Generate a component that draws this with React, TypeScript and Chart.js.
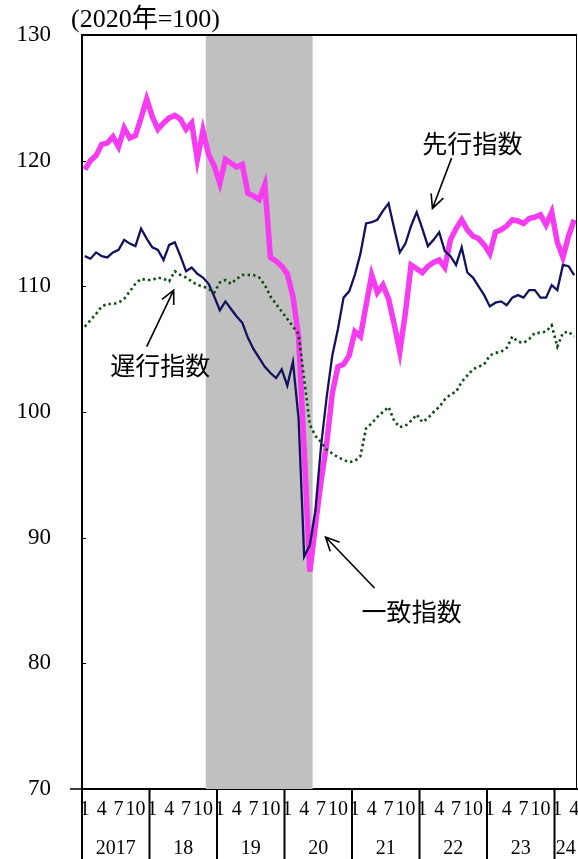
import { useEffect, useRef } from 'react';
import { Chart, registerables } from 'chart.js';

Chart.register(...registerables);

// ---- data ----
const years = [2017, 2018, 2019, 2020, 2021, 2022, 2023, 2024];
const yearLabels = ['2017', '18', '19', '20', '21', '22', '23', '24'];
const monthsInLastYear = 4;
const monthTickLabels = [1, 4, 7, 10];
const yTicks = [70, 80, 90, 100, 110, 120, 130];

const categories: string[] = [];
years.forEach((y, yi) => {
  const n = yi === years.length - 1 ? monthsInLastYear : 12;
  for (let m = 1; m <= n; m++) categories.push(`${y}-${m}`);
});

const recessionStart = '2018-11';
const recessionEnd = '2020-5';

// 先行指数 (leading)
const leading = [
  119.3, 120.0, 120.4, 121.3, 121.4, 121.9, 121.1, 122.6, 121.8, 122.0, 123.4, 124.9,
  123.5, 122.5, 123.0, 123.4, 123.6, 123.3, 122.5, 123.0, 120.1, 122.4, 120.5, 119.6,
  118.2, 120.1, 119.8, 119.5, 119.7, 117.4, 117.2, 116.9, 118.1, 112.3, 112.0, 111.6,
  111.0, 109.2, 106.0, 97.0, 87.3, 91.0, 94.5, 97.5, 101.5, 103.6, 103.8, 104.5,
  106.4, 106.0, 108.5, 110.9, 109.5, 110.1, 109.0, 107.0, 104.8, 107.9, 111.7, 111.4,
  111.1, 111.6, 111.9, 112.1, 111.5, 113.7, 114.6, 115.3, 114.5, 114.0, 113.8, 113.3,
  112.6, 114.3, 114.5, 114.8, 115.3, 115.2, 115.0, 115.4, 115.5, 115.7, 114.9, 115.9,
  113.5, 112.3, 114.0, 115.3,
];

// 一致指数 (coincident)
const coincident = [
  112.4, 112.2, 112.7, 112.4, 112.3, 112.7, 112.9, 113.7, 113.4, 113.2, 114.6, 113.8,
  113.1, 112.9, 112.1, 113.3, 113.5, 112.4, 111.2, 111.5, 111.0, 110.7, 110.2, 109.2,
  108.1, 108.8, 108.2, 107.6, 107.1, 105.9, 105.0, 104.3, 103.6, 103.1, 102.7, 103.4,
  102.1, 104.0, 99.5, 88.5, 89.4, 92.2, 97.3, 101.2, 104.5, 106.6, 109.1, 109.6,
  110.9, 112.6, 115.0, 115.1, 115.3, 116.0, 116.6, 114.6, 112.7, 113.4, 114.8, 115.9,
  114.6, 113.2, 113.7, 114.3, 112.8, 112.4, 111.7, 113.1, 111.1, 110.7, 110.0, 109.3,
  108.4, 108.7, 108.8, 108.5, 109.1, 109.3, 109.1, 109.7, 109.7, 109.1, 109.1, 110.1,
  109.7, 111.7, 111.6, 110.9,
];

// 遅行指数 (lagging)
const lagging = [
  106.8, 107.3, 107.8, 108.4, 108.6, 108.6, 108.7, 109.0, 109.6, 110.2, 110.6, 110.5,
  110.5, 110.7, 110.6, 110.4, 111.2, 110.9, 110.7, 110.4, 110.1, 110.0, 109.8, 109.5,
  110.3, 110.5, 110.2, 110.6, 110.9, 110.9, 110.9, 110.7, 110.1, 109.2, 108.6, 108.0,
  107.4, 106.8, 106.2, 102.6, 99.0, 98.1, 97.6, 97.0, 96.7, 96.4, 96.2, 96.0,
  96.1, 96.5, 98.7, 99.1, 99.6, 100.0, 100.4, 99.3, 98.8, 98.9, 99.3, 99.8,
  99.2, 99.5, 100.0, 100.4, 101.0, 101.4, 101.6, 102.4, 102.9, 103.4, 103.6, 103.8,
  104.5, 104.7, 104.8, 105.1, 106.0, 105.6, 105.5, 105.8, 106.3, 106.3, 106.4, 106.9,
  105.2, 106.3, 106.4, 106.0,
];

const SERIF = '"Liberation Serif", "DejaVu Serif", serif';
const TITLE_FONT = '"Liberation Serif", "Noto Sans CJK JP", serif';
const CJK = '"Noto Sans CJK JP", "Noto Sans CJK SC", sans-serif';

// annotation anchors in data coordinates: [index, value]
const annotations = [
  { text: '先行指数', at: [68.9, 121.4], tail: [65.2, 120.2], head: [61.8, 116.2] },
  { text: '遅行指数', at: [13.4, 103.7], tail: [11.0, 105.2], head: [15.8, 109.7] },
  { text: '一致指数', at: [58.1, 84.1], tail: [51.5, 86.0], head: [42.8, 90.05] },
];

const decoPlugin = {
  id: 'deco',
  beforeDatasetsDraw(chart: any) {
    const { ctx, chartArea, scales } = chart;
    const x = scales.x;
    const i0 = categories.indexOf(recessionStart);
    const i1 = categories.indexOf(recessionEnd);
    const left = x.getPixelForValue(i0 - 0.5);
    const right = x.getPixelForValue(i1 + 0.5);
    ctx.save();
    ctx.fillStyle = '#c0c0c0';
    ctx.fillRect(left, chartArea.top + 1, right - left, chartArea.bottom - chartArea.top - 1);
    ctx.restore();
  },
  afterDatasetsDraw(chart: any) {
    const { ctx, scales } = chart;
    const x = scales.x;
    const y = scales.y;
    ctx.save();
    ctx.fillStyle = '#000';
    ctx.strokeStyle = '#000';
    ctx.font = `25px ${CJK}`;
    ctx.textAlign = 'center';
    ctx.textBaseline = 'middle';
    annotations.forEach((a) => {
      ctx.fillText(a.text, x.getPixelForValue(a.at[0]), y.getPixelForValue(a.at[1]));
      const tx = x.getPixelForValue(a.tail[0]);
      const ty = y.getPixelForValue(a.tail[1]);
      const hx = x.getPixelForValue(a.head[0]);
      const hy = y.getPixelForValue(a.head[1]);
      ctx.lineWidth = 1.6;
      ctx.beginPath();
      ctx.moveTo(tx, ty);
      ctx.lineTo(hx, hy);
      const ang = Math.atan2(hy - ty, hx - tx);
      const len = 15;
      const spread = 0.45;
      ctx.moveTo(hx - len * Math.cos(ang - spread), hy - len * Math.sin(ang - spread));
      ctx.lineTo(hx, hy);
      ctx.lineTo(hx - len * Math.cos(ang + spread), hy - len * Math.sin(ang + spread));
      ctx.stroke();
    });
    ctx.restore();
  },
  afterDraw(chart: any) {
    const { ctx, chartArea, scales, height } = chart;
    const x = scales.x;
    const y = scales.y;
    ctx.save();
    ctx.strokeStyle = '#000';
    ctx.lineWidth = 2;
    ctx.beginPath();
    ctx.moveTo(chartArea.left - 1, chartArea.top);
    ctx.lineTo(chartArea.right, chartArea.top);
    ctx.stroke();
    ctx.lineWidth = 1;
    ctx.beginPath();
    ctx.moveTo(chartArea.right - 0.5, chartArea.top);
    ctx.lineTo(chartArea.right - 0.5, chartArea.bottom);
    ctx.stroke();
    yTicks.forEach((v) => {
      const py = Math.round(y.getPixelForValue(v)) + 0.5;
      ctx.beginPath();
      ctx.moveTo(chartArea.left, py);
      ctx.lineTo(chartArea.left + 4, py);
      ctx.stroke();
    });
    ctx.lineWidth = 1.5;
    ctx.beginPath();
    ctx.moveTo(chartArea.left - 12, chartArea.bottom);
    ctx.lineTo(chartArea.left, chartArea.bottom);
    ctx.stroke();
    ctx.lineWidth = 2;
    ctx.fillStyle = '#000';
    ctx.font = `20px ${SERIF}`;
    ctx.textAlign = 'center';
    ctx.textBaseline = 'middle';
    let idx = 0;
    years.forEach((_yr, yi) => {
      const n = yi === years.length - 1 ? monthsInLastYear : 12;
      const l = x.getPixelForValue(idx - 0.5);
      const r = Math.min(x.getPixelForValue(idx + n - 0.5), chartArea.right);
      ctx.beginPath();
      ctx.moveTo(l, chartArea.bottom);
      ctx.lineTo(l, height);
      ctx.stroke();
      ctx.fillText(yearLabels[yi], (l + r) / 2, 849);
      idx += n;
    });
    ctx.restore();
  },
};

export default function App() {
  const ref = useRef<HTMLCanvasElement>(null);
  useEffect(() => {
    const chart = new Chart(ref.current as HTMLCanvasElement, {
      type: 'line',
      data: {
        labels: categories,
        datasets: [
          {
            label: '遅行指数',
            data: lagging,
            borderColor: '#0b4a12',
            borderWidth: 2.6,
            borderDash: [2.4, 3.2],
            pointRadius: 0,
            tension: 0,
          },
          {
            label: '一致指数',
            data: coincident,
            borderColor: '#12125e',
            borderWidth: 2.3,
            pointRadius: 0,
            tension: 0,
          },
          {
            label: '先行指数',
            data: leading,
            borderColor: '#f53cf0',
            borderWidth: 5.5,
            pointRadius: 0,
            tension: 0,
          },
        ],
      },
      options: {
        responsive: false,
        animation: false,
        devicePixelRatio: 1,
        layout: { padding: { top: 35, right: 1, left: 0, bottom: 0 } },
        plugins: {
          legend: { display: false },
          tooltip: { enabled: false },
          title: { display: false },
        },
        scales: {
          x: {
            type: 'category',
            offset: true,
            grid: { display: false, drawTicks: false },
            border: { display: true, color: '#000', width: 2 },
            ticks: {
              autoSkip: false,
              maxRotation: 0,
              minRotation: 0,
              padding: 9,
              color: '#000',
              font: { family: SERIF, size: 20 },
              callback: (_v: any, i: number) => {
                const m = (i % 12) + 1;
                return monthTickLabels.includes(m) ? String(m) : '';
              },
            },
            afterFit: (s: any) => {
              s.height = 70;
              s.paddingLeft = 0;
              s.paddingRight = 0;
            },
          },
          y: {
            min: 70,
            max: 130,
            grid: { display: false, drawTicks: false },
            border: { display: true, color: '#000', width: 2 },
            ticks: {
              stepSize: 10,
              padding: 31,
              color: '#000',
              font: { family: SERIF, size: 23 },
            },
            afterFit: (s: any) => {
              s.width = 82;
              s.paddingTop = 0;
              s.paddingBottom = 0;
            },
          },
        },
      },
      plugins: [
        decoPlugin,
        {
          id: 'titleText',
          afterDraw(chart: any) {
            const { ctx } = chart;
            ctx.save();
            ctx.fillStyle = '#000';
            ctx.font = `26px ${TITLE_FONT}`;
            ctx.textAlign = 'left';
            ctx.textBaseline = 'middle';
            ctx.fillText('(2020年=100)', 71, 20);
            ctx.restore();
          },
        },
      ],
    } as any);
    return () => chart.destroy();
  }, []);
  return (
    <div style={{ position: 'fixed', left: 0, top: 0, width: 578, height: 859, background: '#fff' }}>
      <canvas ref={ref} width={578} height={859} style={{ display: 'block', width: 578, height: 859 }} />
    </div>
  );
}
